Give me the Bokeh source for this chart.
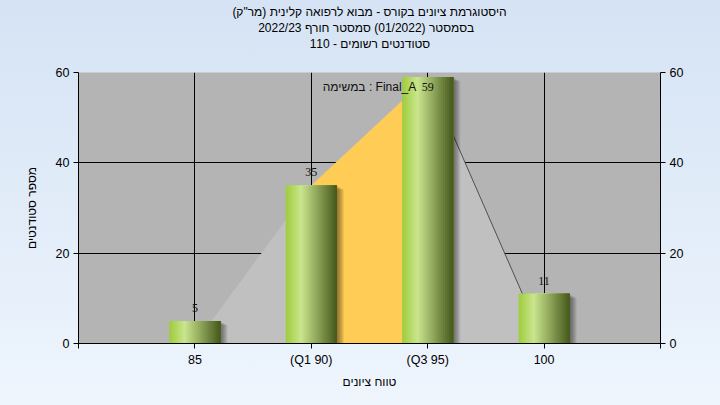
import numpy as np
from bokeh.plotting import figure
from bokeh.models import ColumnDataSource, LinearAxis, Range1d, FixedTicker, Label, LabelSet, Title
from bokeh.embed import file_html
from bokeh.resources import INLINE

# ---------------- data ----------------
categories = ["85", "(Q1 90)", "(Q3 95)", "100"]
counts = [5, 35, 59, 11]
y_ticks = [0, 20, 40, 60]
q1_index = 1
q3_index = 2
title_lines = ['היסטוגרמת ציונים בקורס - מבוא לרפואה קלינית (מר"ק)',
               "בסמסטר  (01/2022)  סמסטר חורף 2022/23",
               "סטודנטים רשומים - 110"]
x_label = "טווח ציונים"
y_label = "מספר סטודנטים"
note_text = "במשימה : Final_A"

# ---------------- style ----------------
FONT = "Liberation Sans"
W, H = 720, 405
ML, MR, MT, MB = 78, 60, 72, 62
n = len(categories)
X0, X1 = 0, n + 1
Y0, Y1 = 0, 60
FW, FH = W - ML - MR, H - MT - MB
PX_X = FW / (X1 - X0)
PX_Y = FH / (Y1 - Y0)
BAR_W = 0.44

p = figure(width=W, height=H, x_range=Range1d(X0, X1), y_range=Range1d(Y0, Y1),
           output_backend="svg", toolbar_location=None,
           min_border_left=ML, min_border_right=MR, min_border_top=MT, min_border_bottom=MB)
p.border_fill_color = None
p.background_fill_color = "#B4B4B4"
p.outline_line_color = None

positions = np.arange(1, n + 1)

# grids
p.xgrid.ticker = FixedTicker(ticks=list(positions))
p.ygrid.ticker = FixedTicker(ticks=y_ticks)
for g in (p.xgrid, p.ygrid):
    g.grid_line_color = "black"
    g.grid_line_width = 1

# light distribution polygon
poly_y = [0] + counts[1:-1] + [0]
p.patch(list(positions), poly_y, fill_color="#C0C0C0", line_color=None)
# quartile band
p.patch([positions[q1_index], positions[q1_index], positions[q3_index], positions[q3_index]],
        [0, counts[q1_index], counts[q3_index], 0], fill_color="#FFCC55", line_color=None)
# falling edge line
p.line([positions[q3_index], positions[-1]], [counts[q3_index], 0], line_color="#505050", line_width=1)

# shadows
for k in range(1, 8):
    dx = k / PX_X
    dy = (k * 0.6) / PX_Y
    p.quad(left=positions - BAR_W / 2 + dx, right=positions + BAR_W / 2 + dx,
           top=np.array(counts) - dy, bottom=0, fill_color="black", fill_alpha=0.07, line_color=None)

# gradient bars
stops = [(0.0, (158, 204, 60)), (0.3, (202, 229, 142)), (1.0, (68, 88, 26))]
def grad(t):
    for (t0, c0), (t1, c1) in zip(stops[:-1], stops[1:]):
        if t <= t1:
            f = (t - t0) / (t1 - t0)
            return "#%02x%02x%02x" % tuple(int(round(a + (b - a) * f)) for a, b in zip(c0, c1))
    return "#%02x%02x%02x" % stops[-1][1]

NS = 25
lefts, rights, tops, cols = [], [], [], []
for i in range(NS):
    for xc, c in zip(positions, counts):
        lefts.append(xc - BAR_W / 2 + BAR_W * i / NS)
        rights.append(xc + BAR_W / 2)
        tops.append(c)
        cols.append(grad((i + 0.5) / NS))
p.quad(left=lefts, right=rights, top=tops, bottom=0, fill_color=cols, line_color=None)

# value labels
label_y = [min(c, Y1 - 6) for c in counts]
src = ColumnDataSource(dict(x=positions, y=label_y, t=[str(c) for c in counts]))
p.add_layout(LabelSet(x="x", y="y", text="t", source=src, text_align="center",
                      text_baseline="alphabetic", y_offset=9, text_font=FONT,
                      text_font_size="12px", text_color="#111111"))

p.add_layout(Label(x=(X0 + X1) / 2, y=Y1, y_offset=-14, text=note_text, text_align="center",
                   text_baseline="alphabetic", text_font=FONT, text_font_size="12px",
                   text_color="#111111"))

# axes
p.xaxis.ticker = FixedTicker(ticks=list(range(X0, X1 + 1)))
overrides = {int(X0): "", int(X1): ""}
for xc, cat in zip(positions, categories):
    overrides[int(xc)] = cat
p.xaxis.major_label_overrides = overrides
p.xaxis.axis_label = x_label
p.yaxis.ticker = FixedTicker(ticks=y_ticks)
p.yaxis.axis_label = y_label

right_axis = LinearAxis(ticker=FixedTicker(ticks=y_ticks))
p.add_layout(right_axis, "right")

for ax in p.axis:
    ax.axis_line_color = "black"
    ax.major_tick_line_color = "black"
    ax.major_tick_out = 5
    ax.major_tick_in = 0
    ax.minor_tick_line_color = None
    ax.major_label_text_font = FONT
    ax.major_label_text_font_size = "12.5px"
    ax.major_label_text_color = "black"
    ax.major_label_standoff = 4
    ax.axis_label_text_font = FONT
    ax.axis_label_text_font_size = "12px"
    ax.axis_label_text_font_style = "normal"
    ax.axis_label_text_color = "black"
p.xaxis.axis_label_standoff = 5
p.yaxis.axis_label_standoff = 14

# titles: a blank spacer nearest the frame, then the lines bottom-up
def add_title(text, standoff):
    p.add_layout(Title(text=text, align="center", offset=-9, text_font=FONT,
                       text_font_size="12px", text_font_style="normal", text_color="black",
                       text_line_height=0.8, standoff=standoff), "above")

add_title(" ", 6)
for line in reversed(title_lines):
    add_title(line, 0)

html = file_html(p, INLINE)
css = ("<style>html{height:100%;background:linear-gradient(to bottom,#D5E3F4,#EEF5FD);}"
       "body{background:transparent;}</style>")
html = html.replace("</head>", css + "</head>", 1)
open("out.html", "w").write(html)
